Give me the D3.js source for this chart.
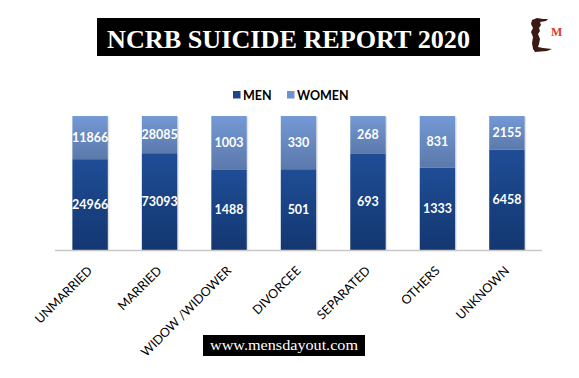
<!DOCTYPE html>
<html>
<head>
<meta charset="utf-8">
<script src="https://cdn.jsdelivr.net/npm/d3@7"></script>
<style>
html,body{margin:0;padding:0;background:#fff;}
svg{display:block;}
</style>
</head>
<body>
<svg id="chart" width="579" height="378"></svg>
<script>
const categories = ["UNMARRIED","MARRIED","WIDOW/WIDOWER","DIVORCEE","SEPARATED","OTHERS","UNKNOWN"];
const categoryLabels = ["UNMARRIED","MARRIED","WIDOW /WIDOWER","DIVORCEE","SEPARATED","OTHERS","UNKNOWN"];
const men   = [24966, 73093, 1488, 501, 693, 1333, 6458];
const women = [11866, 28085, 1003, 330, 268, 831, 2155];
const seriesNames = ["MEN","WOMEN"];
const titleText = "NCRB SUICIDE REPORT 2020";
const footerText = "www.mensdayout.com";

const svg = d3.select("#chart");
const defs = svg.append("defs");

const gMen = defs.append("linearGradient").attr("id","gMen").attr("x1",0).attr("y1",0).attr("x2",0).attr("y2",1);
gMen.append("stop").attr("offset","0%").attr("stop-color","#1f4d96");
gMen.append("stop").attr("offset","100%").attr("stop-color","#133770");
const gWomen = defs.append("linearGradient").attr("id","gWomen").attr("x1",0).attr("y1",0).attr("x2",0).attr("y2",1);
gWomen.append("stop").attr("offset","0%").attr("stop-color","#7499d5");
gWomen.append("stop").attr("offset","100%").attr("stop-color","#5b79ab");

// Title
svg.append("rect").attr("x",97).attr("y",18).attr("width",383).attr("height",38).attr("fill","#000");
svg.append("text").attr("x",288.5).attr("y",47.5).attr("text-anchor","middle")
  .attr("font-family","'Liberation Serif','DejaVu Serif',serif").attr("font-weight","bold")
  .attr("font-size",25).attr("fill","#fff")
  .attr("textLength",363).attr("lengthAdjust","spacingAndGlyphs")
  .text(titleText);

// Logo
const logo = svg.append("g").attr("transform","translate(525,15)");
logo.append("path").attr("fill","#3a1a12")
  .attr("d","M7,5 L12,3 L18,4 L23,4 L21,6 L15,7 L16,10 L14,13 L15,16 L13,19 L15,24 L14,29 L13,32 L18,33 L27,34 L22,36 L10,37 L8,34 L7,28 L8,22 L6,17 L8,13 L6,9 Z");
logo.append("text").attr("x",26).attr("y",20.5).attr("font-family","'Liberation Serif',serif")
  .attr("font-weight","bold").attr("font-size",12).attr("fill","#e0391f").text("M");

// Scales
const x = d3.scaleBand().domain(categories).range([55,542]).paddingInner(0.49).paddingOuter(0.25);
const y = d3.scaleLinear().domain([0,1]).range([250,116]);

const data = categories.map((c,i)=>({cat:c, MEN:men[i], WOMEN:women[i]}));
const norm = data.map(d=>{const t=d.MEN+d.WOMEN; return {cat:d.cat, MEN:d.MEN/t, WOMEN:d.WOMEN/t, raw:d};});
const stack = d3.stack().keys(seriesNames)(norm);
const fills = {MEN:"url(#gMen)", WOMEN:"url(#gWomen)"};

// shadows
svg.append("g").selectAll("rect").data(categories).join("rect")
  .attr("x",d=>x(d)+1.5).attr("y",y(1)+1).attr("width",x.bandwidth()).attr("height",y(0)-y(1)-1)
  .attr("fill","#d6d6d6").attr("opacity",0.7);

const layers = svg.append("g").selectAll("g").data(stack).join("g").attr("fill",s=>fills[s.key]);
layers.selectAll("rect").data(s=>s).join("rect")
  .attr("x",d=>x(d.data.cat)).attr("y",d=>y(d[1]))
  .attr("width",x.bandwidth()).attr("height",d=>y(d[0])-y(d[1]));

// value labels
stack.forEach(s=>{
  svg.append("g").selectAll("text").data(s).join("text")
    .attr("x",d=>x(d.data.cat)+x.bandwidth()/2)
    .attr("y",d=>(y(d[0])+y(d[1]))/2)
    .attr("dy","0.36em").attr("text-anchor","middle")
    .attr("font-family","Lato,'Open Sans',sans-serif").attr("font-weight","bold")
    .attr("font-size",12.5).attr("fill","#fff")
    .text(d=>d.data.raw[s.key]);
});

// axis
const axis = svg.append("g").attr("transform","translate(0,250.5)")
  .call(d3.axisBottom(x).tickSize(0).tickFormat((d,i)=>categoryLabels[i]));
axis.select(".domain").attr("stroke","#c8c8c8").attr("stroke-width",1.5).attr("d","M55,0H542");
axis.selectAll("text")
  .attr("font-family","Lato,'Open Sans',sans-serif").attr("font-size",12.5).attr("fill","#000")
  .attr("text-anchor","end").attr("dy",null).attr("y",0)
  .attr("transform","translate(3,21) rotate(-45)");

// legend
const legend = svg.append("g");
const lx = [233, 287];
seriesNames.forEach((k,i)=>{
  legend.append("rect").attr("x",lx[i]).attr("y",91).attr("width",7.5).attr("height",7.5)
    .attr("fill", i===0 ? "#1c4689" : "#6f92cc");
  legend.append("text").attr("x",lx[i]+10).attr("y",99.5)
    .attr("font-family","Lato,'Open Sans',sans-serif").attr("font-weight","bold")
    .attr("font-size",12.5).attr("fill","#000").text(k);
});

// footer
svg.append("rect").attr("x",203).attr("y",335).attr("width",162).attr("height",21).attr("fill","#000");
svg.append("text").attr("x",284).attr("y",350).attr("text-anchor","middle")
  .attr("font-family","'Liberation Serif','DejaVu Serif',serif").attr("font-size",15).attr("fill","#fff")
  .attr("textLength",148).attr("lengthAdjust","spacingAndGlyphs")
  .text(footerText);
</script>
</body>
</html>
